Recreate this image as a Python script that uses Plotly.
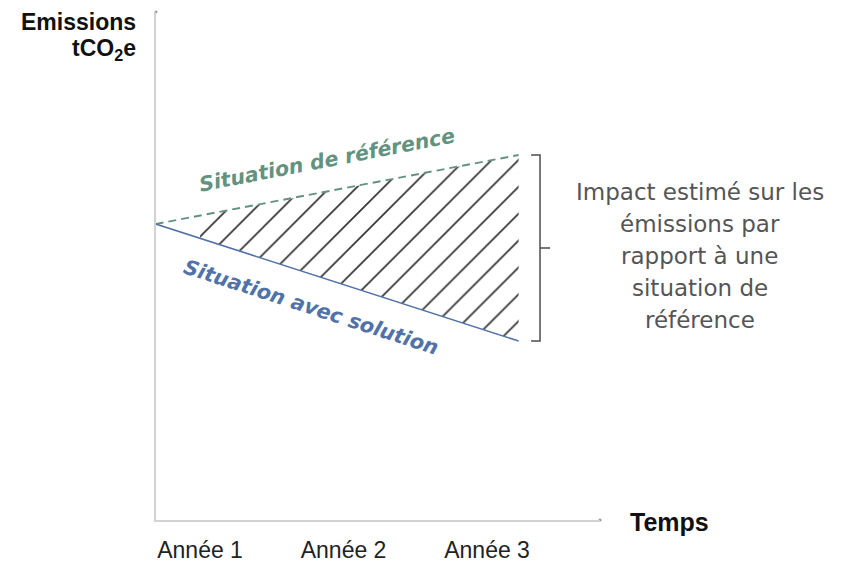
import plotly.graph_objects as go

# ---- data ----
year_labels = ["Année 1", "Année 2", "Année 3"]
year_positions = [1, 2, 3]
time_points = [0.69, 1.0, 3.22]          # start of lines, start of impact, end
reference = [29.6, 30.4, 36.5]           # Situation de référence
with_solution = [29.6, 28.2, 17.9]       # Situation avec solution
x_range = [0.693, 3.787]
y_range = [0, 50.8]

impact_lines = ["Impact estimé sur les", "émissions par", "rapport à une",
                "situation de", "référence"]

REF_COLOR = "#63937f"
SOL_COLOR = "#5172a8"
GREY = "#4d4d4d"
AXIS = "#d2d2d2"
LABEL_FONT = "DejaVu Sans"

fig = go.Figure()

# hatched impact area (from year 1 onward)
fig.add_trace(go.Scatter(
    x=time_points[1:], y=with_solution[1:], mode="lines",
    line=dict(width=0), hoverinfo="skip", showlegend=False))
fig.add_trace(go.Scatter(
    x=time_points[1:], y=reference[1:], mode="lines",
    line=dict(width=0), fill="tonexty", fillcolor="rgba(0,0,0,0)",
    fillpattern=dict(shape="/", fgcolor="#333333", fgopacity=1,
                     bgcolor="rgba(255,255,255,0)", size=19, solidity=0.09),
    hoverinfo="skip", showlegend=False))

# reference line (dashed)
fig.add_trace(go.Scatter(
    x=[time_points[0], time_points[-1]], y=[reference[0], reference[-1]],
    mode="lines", line=dict(color=REF_COLOR, width=1.9, dash="8px,5px"),
    showlegend=False))
# with-solution line
fig.add_trace(go.Scatter(
    x=[time_points[0], time_points[-1]], y=[with_solution[0], with_solution[-1]],
    mode="lines", line=dict(color=SOL_COLOR, width=1.6),
    showlegend=False))

# axis end dots
fig.add_trace(go.Scatter(
    x=[x_range[1], x_range[0]], y=[y_range[0], y_range[1]], mode="markers",
    marker=dict(color="#999999", size=3), cliponaxis=False,
    hoverinfo="skip", showlegend=False))

# line labels
fig.add_annotation(x=1.885, y=36.0, text="<b><i>Situation de référence</i></b>",
                   showarrow=False, textangle=-11,
                   font=dict(family=LABEL_FONT, size=20.5, color=REF_COLOR))
fig.add_annotation(x=1.77, y=21.3, text="<b><i>Situation avec solution</i></b>",
                   showarrow=False, textangle=18,
                   font=dict(family=LABEL_FONT, size=20.5, color=SOL_COLOR))

# bracket
bx, bx_in, bx_out = 3.369, 3.307, 3.439
ymid = (reference[-1] + with_solution[-1]) / 2
fig.add_shape(type="path", xref="x", yref="y",
              path=f"M {bx_in},{reference[-1]} L {bx},{reference[-1]} "
                   f"L {bx},{with_solution[-1]} L {bx_in},{with_solution[-1]}",
              line=dict(color=GREY, width=1.5))
fig.add_shape(type="line", xref="x", yref="y", x0=bx, x1=bx_out, y0=ymid, y1=ymid,
              line=dict(color=GREY, width=1.5))

# impact text
for i, t in enumerate(impact_lines):
    fig.add_annotation(xref="paper", yref="paper", x=1.225,
                       y=(520 - 192 - 32 * i) / 508, text=t, showarrow=False,
                       xanchor="center", yanchor="middle",
                       font=dict(family=LABEL_FONT, size=23, color="#555555"))

# axis titles
fig.add_annotation(xref="paper", yref="paper", x=-0.04, y=(520 - 22) / 508,
                   text="<b>Emissions</b>", showarrow=False, xanchor="right",
                   yanchor="middle", font=dict(family="Liberation Sans", size=23, color="#111"))
fig.add_annotation(xref="paper", yref="paper", x=-0.04, y=(520 - 50) / 508,
                   text="<b>tCO<sub>2</sub>e</b>", showarrow=False, xanchor="right",
                   yanchor="middle", font=dict(family="Liberation Sans", size=23, color="#111"))
fig.add_annotation(xref="paper", yref="paper", x=1.063, y=-(522 - 520) / 508,
                   text="<b>Temps</b>", showarrow=False, xanchor="left",
                   yanchor="middle", font=dict(family="Liberation Sans", size=25, color="#111"))

fig.update_xaxes(range=x_range, tickvals=year_positions, ticktext=year_labels,
                 showgrid=False, zeroline=False, showline=True, linecolor=AXIS,
                 linewidth=1.5, ticks="", ticklabelstandoff=9, automargin=False,
                 tickfont=dict(family="Liberation Sans", size=23, color="#222"))
fig.update_yaxes(range=y_range, showticklabels=False, showgrid=False, automargin=False,
                 zeroline=False, showline=True, linecolor=AXIS, linewidth=1.5, ticks="")

fig.update_layout(width=848, height=564, plot_bgcolor="white", paper_bgcolor="white",
                  margin=dict(l=148, r=256, t=4, b=52), showlegend=False)

fig.write_html("out.html")
